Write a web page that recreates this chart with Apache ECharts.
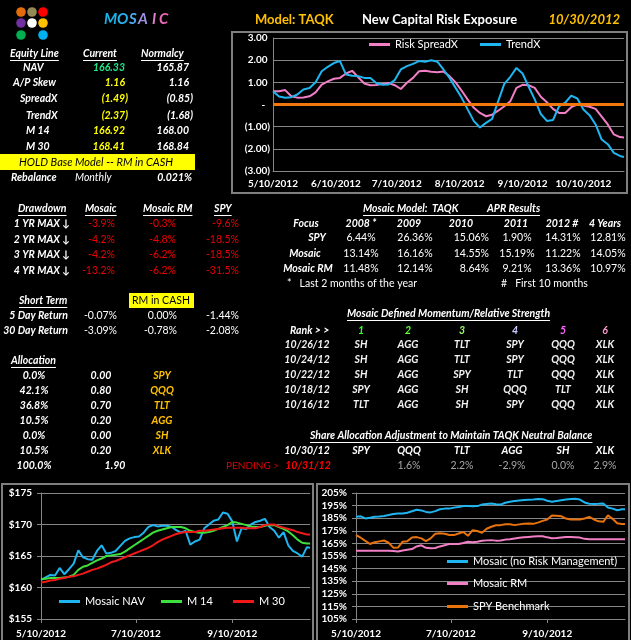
<!DOCTYPE html>
<html>
<head>
<meta charset="utf-8">
<script src="https://cdn.jsdelivr.net/npm/echarts/dist/echarts.min.js"></script>
<style>html,body{margin:0;padding:0;background:#000}#main{width:631px;height:640px}</style>
</head>
<body>
<div id="main"></div>
<script>
// ---- data ----
var dates = ['2012-05-10','2012-05-13','2012-05-16','2012-05-19','2012-05-22','2012-05-25','2012-05-28','2012-05-31',
  '2012-06-03','2012-06-06','2012-06-09','2012-06-12','2012-06-15','2012-06-18','2012-06-21','2012-06-24','2012-06-27','2012-06-30',
  '2012-07-03','2012-07-06','2012-07-09','2012-07-12','2012-07-15','2012-07-18','2012-07-21','2012-07-24','2012-07-27','2012-07-30',
  '2012-08-02','2012-08-05','2012-08-08','2012-08-11','2012-08-14','2012-08-17','2012-08-20','2012-08-23','2012-08-26','2012-08-29',
  '2012-09-01','2012-09-04','2012-09-07','2012-09-10','2012-09-13','2012-09-16','2012-09-19','2012-09-22','2012-09-25','2012-09-28',
  '2012-10-01','2012-10-04','2012-10-07','2012-10-10','2012-10-13','2012-10-16','2012-10-19','2012-10-22','2012-10-25','2012-10-28','2012-10-30'];

var spreadX = [0.6,0.6,0.65,0.37,0.31,0.32,0.37,0.55,0.9,1.04,1.16,1.2,1.4,1.52,1.23,0.95,0.87,0.88,0.93,0.97,0.87,0.7,0.98,1.2,1.5,1.52,1.48,1.46,1.49,1.28,
  1.0,0.62,0.22,-0.15,-0.38,-0.53,-0.46,-0.28,-0.08,0.15,0.75,0.89,0.87,0.75,0.35,0.1,-0.2,-0.38,-0.38,-0.12,0,-0.05,-0.1,-0.2,-0.55,-0.9,-1.35,-1.47,-1.49];
var trendX = [0.6,0.36,0.3,0.33,0.45,0.68,0.74,1.0,1.5,1.7,1.87,1.96,1.35,1.3,1.28,1.2,1.2,0.96,0.89,0.9,1.1,1.58,1.73,1.83,1.96,1.93,2.0,1.93,1.58,1.2,
  0.75,0.3,-0.23,-0.75,-1.04,-0.83,-0.65,0.15,0.93,1.25,1.65,1.4,0.8,0.23,-0.43,-0.74,-0.7,-0.08,0.08,0.4,0.27,-0.23,-0.48,-0.9,-1.58,-1.79,-2.18,-2.32,-2.37];

var nav = [161.2,161.6,162.0,161.9,163.1,162.1,162.9,163.8,165.9,164.8,164.5,164.4,165.8,166.7,165.4,165.5,165.8,166.6,167.4,167.8,168.0,168.1,168.7,169.6,169.9,169.7,169.8,169.8,169.6,169.1,
  168.7,169.0,166.8,167.3,167.6,169.4,170.0,170.6,170.8,171.9,171.7,170.5,167.3,169.4,169.3,170.0,170.4,170.6,170.9,169.6,169.0,167.9,168.8,166.7,165.8,165.4,164.9,166.4,166.3];
var m14 = [161.3,161.4,161.5,161.5,161.5,161.6,161.7,162.0,162.8,163.3,163.5,163.9,164.3,164.6,165.0,165.1,165.2,165.3,165.7,166.2,166.7,167.2,167.7,168.2,168.7,169.0,169.2,169.4,169.6,169.6,
  169.6,169.4,169.0,168.8,168.7,168.7,168.8,169.0,169.3,169.6,169.9,170.4,170.3,170.1,169.9,169.7,169.6,169.6,169.8,169.9,169.9,169.6,169.3,168.9,168.3,167.6,167.1,167.0,167.0];
var m30 = [160.8,160.9,161.1,161.2,161.4,161.5,161.7,161.8,162.0,162.2,162.5,162.8,163.0,163.3,163.6,164.0,164.2,164.5,164.8,165.1,165.4,165.7,166.0,166.3,166.7,167.2,167.6,167.9,168.2,168.5,
  168.7,168.8,168.8,168.8,169.0,169.0,169.1,169.2,169.3,169.4,169.5,169.5,169.5,169.5,169.4,169.4,169.4,169.6,169.9,170.0,170.0,169.7,169.5,169.3,169.1,168.8,168.6,168.4,168.4];

var mosaicPct = [186.1,186.5,184.8,185.3,186.1,186.4,186.8,187.5,188.4,188.7,188.7,189.3,190.5,191.7,191.2,190.0,189.6,190.6,192.1,192.6,192.6,193.4,193.9,194.6,194.6,194.5,194.6,195.8,196.3,196.6,
  196.0,195.8,197.3,198.1,198.7,199.1,199.4,199.7,199.9,200.2,200.1,198.8,198.0,198.6,199.2,199.8,200.2,200.5,199.8,197.5,196.5,196.3,196.4,196.6,193.5,192.6,191.3,192.1,192.1];
var mosaicRmPct = [159.2,159.2,159.2,159.2,159.2,159.2,159.2,159.2,159.0,158.5,159.4,160.0,160.5,162.6,163.5,161.5,161.1,161.3,162.6,163.6,164.5,164.5,164.5,165.3,166.3,166.0,166.3,167.1,167.4,167.6,
  167.2,167.3,168.0,168.3,168.9,169.4,169.8,170.1,170.4,170.6,170.7,169.8,169.1,169.2,169.7,170.1,170.1,169.9,169.6,168.6,168.2,168.2,168.2,168.2,168.2,168.2,168.2,168.2,168.2];
var spyPct = [171.6,169.5,167.0,164.5,165.9,166.6,167.3,165.5,161.6,161.7,166.4,166.8,169.7,170.0,169.0,166.8,169.0,172.6,173.0,172.6,171.6,171.6,172.9,174.0,171.0,175.5,174.8,173.5,176.6,178.2,
  179.4,179.5,180.2,180.2,179.5,180.1,180.6,180.8,180.5,181.5,182.9,183.9,187.2,186.9,186.6,184.7,184.0,183.9,183.9,184.8,186.0,184.0,182.5,182.1,187.2,184.5,181.0,180.4,180.3];

var riskTicks = ['2012-05-10','2012-06-10','2012-07-10','2012-08-10','2012-09-10','2012-10-10'];
var navTicks = ['2012-05-10','2012-07-10','2012-09-10'];

// ---- table data ----
var titleRow = ['Model: TAQK', 'New Capital Risk Exposure', '10/30/2012'];
var equityHead = ['Equity Line', 'Current', 'Normalcy'];
var equityRows = [
  ['NAV', '166.33', '165.87'],
  ['A/P Skew', '1.16', '1.16'],
  ['SpreadX', '(1.49)', '(0.85)'],
  ['TrendX', '(2.37)', '(1.68)'],
  ['M 14', '166.92', '168.00'],
  ['M 30', '168.41', '168.84']
];
var holdNote = 'HOLD Base Model -- RM in CASH';
var rebalance = ['Rebalance', 'Monthly', '0.021%'];
var drawHead = ['Drawdown', 'Mosaic', 'Mosaic RM', 'SPY'];
var drawRows = [
  ['1 YR MAX \u2193', '-3.9%', '-0.3%', '-9.6%'],
  ['2 YR MAX \u2193', '-4.2%', '-4.8%', '-18.5%'],
  ['3 YR MAX \u2193', '-4.2%', '-6.2%', '-18.5%'],
  ['4 YR MAX \u2193', '-13.2%', '-6.2%', '-31.5%']
];
var shortHead = ['Short Term', 'RM in CASH'];
var shortRows = [
  ['5 Day Return', '-0.07%', '0.00%', '-1.44%'],
  ['30 Day Return', '-3.09%', '-0.78%', '-2.08%']
];
var allocHead = 'Allocation';
var allocRows = [
  ['0.0%', '0.00', 'SPY'],
  ['42.1%', '0.80', 'QQQ'],
  ['36.8%', '0.70', 'TLT'],
  ['10.5%', '0.20', 'AGG'],
  ['0.0%', '0.00', 'SH'],
  ['10.5%', '0.20', 'XLK']
];
var allocTotal = ['100.0%', '1.90', 'PENDING >'];
var aprTitle = ['Mosaic Model:  TAQK', 'APR Results'];
var aprHead = ['Focus', '2008 *', '2009', '2010', '2011', '2012 #', '4 Years'];
var aprRows = [
  ['SPY', '6.44%', '26.36%', '15.06%', '1.90%', '14.31%', '12.81%'],
  ['Mosaic', '13.14%', '16.16%', '14.55%', '15.19%', '11.22%', '14.05%'],
  ['Mosaic RM', '11.48%', '12.14%', '8.64%', '9.21%', '13.36%', '10.97%']
];
var aprNotes = ['*   Last 2 months of the year', '#   First 10 months'];
var rankTitle = 'Mosaic Defined Momentum/Relative Strength';
var rankHead = ['Rank > >', '1', '2', '3', '4', '5', '6'];
var rankRows = [
  ['10/26/12', 'SH', 'AGG', 'TLT', 'SPY', 'QQQ', 'XLK'],
  ['10/24/12', 'SH', 'AGG', 'TLT', 'SPY', 'QQQ', 'XLK'],
  ['10/22/12', 'SH', 'AGG', 'SPY', 'TLT', 'QQQ', 'XLK'],
  ['10/18/12', 'SPY', 'AGG', 'SH', 'QQQ', 'TLT', 'XLK'],
  ['10/16/12', 'TLT', 'AGG', 'SH', 'SPY', 'QQQ', 'XLK']
];
var adjTitle = 'Share Allocation Adjustment to Maintain TAQK Neutral Balance';
var adjHead = ['10/30/12', 'SPY', 'QQQ', 'TLT', 'AGG', 'SH', 'XLK'];
var adjRow = ['10/31/12', '', '1.6%', '2.2%', '-2.9%', '0.0%', '2.9%'];

// ---- helpers ----
var FONT = 'Lato, "DejaVu Sans", sans-serif';
var myChart = echarts.init(document.getElementById('main'));
var els = [];
var mctx = document.createElement('canvas').getContext('2d');

function ts(s) {
  var p = s.split('-');
  return new Date(+p[0], +p[1] - 1, +p[2]).getTime();
}
function fmtDate(v) {
  var d = new Date(v);
  return (d.getMonth() + 1) + '/' + d.getDate() + '/' + d.getFullYear();
}
function pairs(vals) {
  return dates.map(function (d, i) { return [ts(d), vals[i]]; });
}
function fontOf(o) {
  return (o.it === false ? '' : 'italic ') + (o.b === false ? '' : 'bold ') + (o.fs || 10.5) + 'px ' + FONT;
}
function T(x, y, s, o) {
  o = o || {};
  var f = fontOf(o);
  els.push({
    type: 'text', silent: true, z: 20,
    style: {
      x: x, y: y, text: s, fill: o.c || '#fff', font: f,
      align: o.a || 'left', verticalAlign: 'middle',
      textAlign: o.a || 'left', textVerticalAlign: 'middle'
    }
  });
  mctx.font = f;
  return mctx.measureText(s).width;
}
// underlined text, left aligned
function U(x, y, s, o, w) {
  var width = T(x, y, s, o);
  els.push({
    type: 'line', silent: true, z: 20,
    shape: { x1: x, y1: y + 6.5, x2: x + (w || width), y2: y + 6.5 },
    style: { stroke: '#fff', lineWidth: 1 }
  });
}
function box(x, y, w, h, fill, stroke) {
  els.push({
    type: 'rect', silent: true, z: 1,
    shape: { x: x, y: y, width: w, height: h },
    style: { fill: fill || 'none', stroke: stroke || null, lineWidth: stroke ? 2 : 0 }
  });
}

// ---- logo ----
var logoColors = [['#e46c0a', '#948a54', '#ff0000'], ['#7030a0', '#ffffff', '#ffc000'], ['#00b050', null, '#00b0f0']];
var logoX = [21, 32, 43], logoY = [12, 23, 35];
logoColors.forEach(function (row, r) {
  row.forEach(function (c, k) {
    if (!c) return;
    els.push({ type: 'circle', silent: true, z: 20, shape: { cx: logoX[k], cy: logoY[r], r: 4.8 }, style: { fill: c } });
  });
});
var mosaicColors = ['#16b4ec', '#2ab2f0', '#4aaaf0', '#9c92e2', '#e07ccf', '#f068b8'];
var mosaicX = [104, 117, 129, 138, 152, 159];
'MOSAIC'.split('').forEach(function (ch, i) { T(mosaicX[i], 19, ch, { c: mosaicColors[i], fs: 15 }); });

// ---- equity line block ----
[10, 83, 141].forEach(function (x, i) { U(x, 54, equityHead[i]); });
var eqY = [68, 83, 99, 116, 131, 147], eqLabX = [23, 13, 20, 26, 26, 26];
equityRows.forEach(function (r, i) {
  T(eqLabX[i], eqY[i], r[0]);
  var paren = r[1].charAt(0) === '(';
  T(paren ? 128 : 125, eqY[i], r[1], { a: 'right', c: i === 0 ? '#1ee88a' : '#ffff00' });
  T(r[2].charAt(0) === '(' ? 193 : 189, eqY[i], r[2], { a: 'right' });
});
box(0, 154, 195, 16, '#ffff00');
T(19, 162, holdNote, { c: '#000', b: false, fs: 11 });
T(11, 178, rebalance[0]);
T(75, 178, rebalance[1], { b: false });
T(192, 178, rebalance[2], { a: 'right' });

// ---- drawdown ----
[18, 85, 143, 214].forEach(function (x, i) { U(x, 209, drawHead[i]); });
var ddY = [224, 240, 255, 271], valR = [115, 176, 239];
drawRows.forEach(function (r, i) {
  T(70, ddY[i], r[0], { a: 'right' });
  for (var k = 1; k < 4; k++) T(valR[k - 1], ddY[i], r[k], { a: 'right', c: '#ee0000', b: false, it: false });
});

// ---- short term ----
U(19, 301, shortHead[0]);
box(129, 293, 65, 15, '#ffff00');
T(161, 301, shortHead[1], { a: 'center', c: '#000', b: false, it: false });
var stY = [316, 331], stR = [117, 177, 239];
shortRows.forEach(function (r, i) {
  T(68, stY[i], r[0], { a: 'right' });
  for (var k = 1; k < 4; k++) T(stR[k - 1], stY[i], r[k], { a: 'right', b: false, it: false });
});

// ---- allocation ----
U(11, 361, allocHead);
var alY = [376, 391, 406, 421, 436, 451];
allocRows.forEach(function (r, i) {
  T(34, alY[i], r[0], { a: 'center' });
  T(101, alY[i], r[1], { a: 'center' });
  T(162, alY[i], r[2], { a: 'center', c: '#ffc000' });
});
T(34, 466, allocTotal[0], { a: 'center' });
T(115, 466, allocTotal[1], { a: 'center' });
T(226, 466, allocTotal[2], { c: '#e00000', b: false, it: false, fs: 10 });

// ---- top chart title ----
T(255, 20, titleRow[0], { c: '#ffc000', fs: 13, it: false });
T(362, 20, titleRow[1], { fs: 13, it: false });
T(620, 20, titleRow[2], { c: '#ffc000', fs: 13, a: 'right' });

// ---- APR table ----
U(363, 209, aprTitle[0], {}, 177);
T(487, 209, aprTitle[1]);
var aprX = [306, 361, 409, 461, 516, 562, 605];
aprHead.forEach(function (s, k) { T(aprX[k], 224, s, { a: 'center' }); });
var aprY = [238, 254, 269], aprLabX = [317, 305, 308], aprValX = [361, 415, 489, 517, 563, 608];
aprRows.forEach(function (r, i) {
  T(aprLabX[i], aprY[i], r[0], { a: 'center' });
  for (var k = 1; k < r.length; k++) {
    T(aprValX[k - 1], aprY[i], r[k], { a: k === 3 ? 'right' : 'center', b: false, it: false });
  }
});
T(287, 284, aprNotes[0], { b: false, it: false });
T(501, 284, aprNotes[1], { b: false, it: false });

// ---- momentum ranks ----
U(347, 314, rankTitle);
var rankColors = ['#33ff33', '#66ff33', '#99ff66', '#ccccff', '#ff66ff', '#ff99cc'];
var rankX = [361, 408, 462, 515, 563, 605];
T(290, 331, rankHead[0]);
for (var k = 1; k < rankHead.length; k++) T(rankX[k - 1], 331, rankHead[k], { a: 'center', c: rankColors[k - 1] });
var rkY = [345, 360, 375, 390, 405];
rankRows.forEach(function (r, i) {
  T(307, rkY[i], r[0], { a: 'center', c: '#f2f2f2' });
  for (var k = 1; k < r.length; k++) T(rankX[k - 1], rkY[i], r[k], { a: 'center', c: '#f2f2f2' });
});

// ---- share allocation adjustment ----
U(310, 436, adjTitle);
var adjX = [361, 409, 462, 512, 563, 605];
T(307, 451, adjHead[0], { a: 'center' });
for (var k = 1; k < adjHead.length; k++) T(adjX[k - 1], 451, adjHead[k], { a: 'center' });
T(308, 466, adjRow[0], { a: 'center', c: '#ff0000' });
for (var k = 1; k < adjRow.length; k++) T(adjX[k - 1], 466, adjRow[k], { a: 'center', c: '#a6a6a6', b: false, it: false });

// ---- chart frames ----
box(232, 32, 395, 161, null, '#7f7f7f');
box(2, 484, 311, 160, null, '#7f7f7f');
box(317, 484, 312, 160, null, '#7f7f7f');

// ---- axes ----
var gridLine = { lineStyle: { color: '#868686', width: 1 } };
function xAx(gi, ticks, margin, tickShow) {
  return {
    type: 'value', gridIndex: gi, scale: true,
    min: ts(dates[0]), max: ts(dates[dates.length - 1]),
    axisLine: { onZero: false, lineStyle: { color: '#868686' } },
    axisTick: { show: tickShow, customValues: ticks.map(ts), length: 4, lineStyle: { color: '#868686' } },
    splitLine: { show: false },
    axisLabel: {
      customValues: ticks.map(ts), formatter: fmtDate, color: '#fff', fontWeight: 'bold',
      fontSize: 10, fontFamily: FONT, margin: margin, hideOverlap: false
    }
  };
}
function yAx(gi, min, max, interval, fmt, margin, tick) {
  return {
    type: 'value', gridIndex: gi, min: min, max: max, interval: interval,
    axisLine: { show: true, lineStyle: { color: '#868686' } },
    axisTick: { show: tick, length: 4, lineStyle: { color: '#868686' } },
    splitLine: gridLine,
    axisLabel: { formatter: fmt, color: '#fff', fontWeight: 'bold', fontSize: 10, fontFamily: FONT, margin: margin }
  };
}
function lineSeries(name, vals, color, xi) {
  return {
    name: name, type: 'line', xAxisIndex: xi, yAxisIndex: xi, data: pairs(vals),
    symbol: 'none', lineStyle: { color: color, width: 2 }, itemStyle: { color: color }, z: 3
  };
}
function leg(name, left, top) {
  return {
    data: [name], left: left, top: top, icon: 'rect', itemWidth: 21, itemHeight: 3,
    selectedMode: false, padding: 0,
    textStyle: { color: '#fff', fontSize: 11, fontFamily: FONT }
  };
}

var C = {
  pink: '#f27fc6', blue: '#1fb5f0', zero: '#f2780e',
  green: '#3ee03e', red: '#f01818', orange: '#e8720c'
};

var spreadSeries = lineSeries('Risk SpreadX', spreadX, C.pink, 0);
spreadSeries.markLine = {
  silent: true, symbol: 'none', label: { show: false },
  lineStyle: { color: C.zero, width: 3, type: 'solid' },
  data: [{ yAxis: 0 }]
};
spreadSeries.z = 2;

option = {
  backgroundColor: '#000',
  animation: false,
  grid: [
    { left: 273, top: 38, width: 351, height: 133 },
    { left: 41, top: 493, width: 269, height: 126 },
    { left: 356, top: 493, width: 269, height: 126 }
  ],
  xAxis: [xAx(0, riskTicks, 8, false), xAx(1, navTicks, 10, true), xAx(2, navTicks, 10, true)],
  yAxis: [
    yAx(0, -3, 3, 1, function (v) {
      if (v === 0) return '-  ';
      return v < 0 ? '(' + (-v).toFixed(2) + ')' : v.toFixed(2) + ' ';
    }, 3, false),
    yAx(1, 155, 175, 5, function (v) { return '$' + v; }, 9, true),
    yAx(2, 105, 205, 10, function (v) { return v + '%'; }, 9, true)
  ],
  legend: [
    leg('Risk SpreadX', 369, 39), leg('TrendX', 480, 39),
    leg('Mosaic NAV', 59, 596), leg('M 14', 161, 596), leg('M 30', 233, 596),
    leg('Mosaic (no Risk Management)', 447, 556), leg('Mosaic RM', 447, 578), leg('SPY Benchmark', 447, 601)
  ],
  series: [
    spreadSeries,
    lineSeries('TrendX', trendX, C.blue, 0),
    lineSeries('Mosaic NAV', nav, C.blue, 1),
    lineSeries('M 14', m14, C.green, 1),
    lineSeries('M 30', m30, C.red, 1),
    lineSeries('Mosaic (no Risk Management)', mosaicPct, C.blue, 2),
    lineSeries('Mosaic RM', mosaicRmPct, C.pink, 2),
    lineSeries('SPY Benchmark', spyPct, C.orange, 2)
  ],
  graphic: { elements: els }
};

myChart.setOption(option);
</script>
</body>
</html>
